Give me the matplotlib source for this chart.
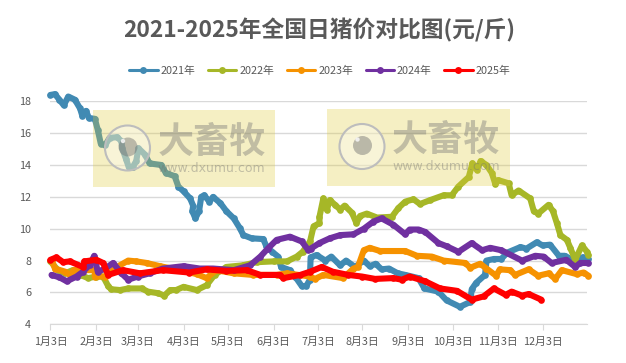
import matplotlib
matplotlib.use('Agg')
import matplotlib.pyplot as plt
from matplotlib.patches import Rectangle, Circle

plt.rcParams['font.family'] = ['Noto Sans CJK SC', 'DejaVu Sans']

title = '2021-2025年全国日猪价对比图(元/斤)'
tick_days = [0, 31, 59, 90, 120, 151, 181, 211, 242, 272, 303, 333]
tick_labels = ['1月3日', '2月3日', '3月3日', '4月3日', '5月3日', '6月3日',
               '7月3日', '8月3日', '9月3日', '10月3日', '11月3日', '12月3日']

# days since Jan 3
days_2021 = [0, 3, 6, 9, 12, 16.5, 20, 21.5, 24, 26, 30, 32, 34, 37, 40, 45, 48, 48.5, 51, 53, 55.5, 58, 59.5, 64, 67,
             75, 78, 84, 86.5, 90, 94.5, 96.5, 96, 98, 100.5, 102, 104, 107.5, 110, 115, 119, 124, 128, 130.5, 136,
             144, 146, 150, 154, 156, 162, 165.5, 170, 173, 175.5, 176, 180, 186, 190, 196, 200, 206, 212, 216, 220,
             224, 229, 235, 240, 249, 253, 262.5, 268, 277, 284, 285, 288, 294, 295, 300, 305, 309, 318, 322, 329,
             333, 338, 344, 348, 354, 360, 364]
price_2021 = [18.4, 18.45, 18.1, 17.75, 18.3, 18.1, 17.55, 17.1, 17.4, 16.95, 16.9, 16.2, 15.35, 15.25, 15.7, 15.75,
              15.5, 15.05, 14.4, 13.85, 13.85, 14.25, 15.05, 14.65, 14.1, 14.0, 13.5, 13.3, 12.65, 12.35, 11.9, 11.45,
              11.1, 10.65, 11.1, 12.0, 12.1, 11.7, 12.0, 11.6, 11.1, 10.65, 10.05, 9.6, 9.4, 9.35, 8.9, 8.55, 8.25,
              7.6, 7.4, 7.0, 6.4, 6.4, 6.8, 8.2, 8.35, 8.0, 8.25, 7.7, 8.0, 7.6, 8.0, 7.65, 7.8, 7.45, 7.5, 7.2, 7.1,
              6.9, 6.25, 6.05, 5.5, 5.1, 5.4, 6.2, 6.6, 7.1, 8.0, 8.1, 8.1, 8.5, 8.85, 8.75, 9.15, 8.95, 9.0, 8.3,
              8.3, 8.0, 8.2, 8.1]

days_2022 = [0, 5, 10, 15, 20, 25.5, 31, 35.6, 39, 41, 47, 52.6, 61.6, 66, 73, 77, 81, 85, 90, 99, 105.6, 111, 119,
             130, 139.5, 151, 160, 166.6, 170.6, 175.6, 178, 182, 182, 184.6, 187, 189, 192.5, 196, 199, 204, 207,
             209.5, 214, 221, 231, 235.4, 240, 245.6, 250, 257, 266, 271.5, 276, 283, 285.5, 288.5, 291, 295, 298.6,
             301, 303, 310, 312, 316.7, 324.6, 327, 330, 337, 340, 342.6, 345, 349.4, 351.7, 355, 359.6, 363, 364]
price_2022 = [7.95, 7.4, 7.2, 7.4, 7.1, 6.9, 7.0, 7.0, 6.4, 6.2, 6.15, 6.25, 6.25, 6.05, 5.95, 5.8, 6.15, 6.15, 6.35,
              6.15, 6.45, 7.1, 7.6, 7.7, 7.9, 7.95, 7.95, 8.25, 8.55, 9.2, 10.15, 10.35, 10.75, 11.9, 11.2, 11.8, 11.5,
              11.2, 11.45, 11.0, 10.35, 10.8, 10.95, 10.7, 10.75, 11.3, 11.7, 11.85, 11.55, 11.8, 12.1, 12.1, 12.65,
              13.25, 14.1, 13.7, 14.25, 14.0, 13.5, 12.8, 13.05, 12.85, 12.1, 12.4, 11.9, 11.1, 10.95, 11.5, 11.1,
              10.35, 9.6, 9.3, 8.8, 8.05, 8.95, 8.55, 8.35]

days_2023 = [0.7, 3, 10, 13, 16, 30, 30, 37, 45, 52.6, 58, 65, 74, 87.6, 99, 105.6, 112, 124, 137, 153, 160, 175.6,
             179, 184.6, 198, 205, 208, 212, 216, 223, 240, 248, 258, 266, 280.6, 284, 290.7, 295, 301.5, 304, 311,
             314.4, 323.5, 330, 337, 341.5, 346, 356, 360.7, 364]
price_2023 = [8.05, 7.5, 7.3, 7.1, 7.4, 7.4, 7.0, 7.0, 7.6, 8.0, 7.95, 7.85, 7.65, 7.4, 7.15, 6.9, 7.4, 7.2, 7.1, 7.1,
              7.2, 7.0, 6.85, 7.1, 6.9, 7.5, 7.6, 8.65, 8.8, 8.6, 8.6, 8.3, 8.25, 8.0, 7.85, 7.55, 7.8, 7.5, 7.05,
              7.45, 7.4, 7.1, 7.45, 7.05, 7.2, 6.85, 7.4, 7.15, 7.25, 7.05]

days_2024 = [0.7, 6, 11, 17.6, 22, 26.6, 29.6, 32, 37, 42.4, 48, 52.6, 59, 67, 76, 90, 101, 110, 124, 135, 142, 147,
             153, 162, 170, 174.5, 176, 182, 189, 196, 205, 212, 218.5, 224, 232, 240, 243, 249, 253.5, 262.5, 268,
             276, 285, 292, 297.5, 305, 319, 328, 333.6, 339, 349, 355, 358.5, 364]
price_2024 = [7.1, 6.95, 6.7, 7.0, 7.3, 7.75, 8.3, 7.3, 7.5, 7.85, 7.2, 6.8, 7.0, 7.2, 7.5, 7.65, 7.5, 7.5, 7.4, 7.7,
              8.25, 8.75, 9.3, 9.5, 9.2, 8.65, 8.75, 9.1, 9.4, 9.6, 9.65, 10.0, 10.45, 10.65, 10.25, 9.65, 9.95, 9.95,
              9.8, 9.1, 8.9, 8.55, 9.1, 8.65, 8.8, 8.65, 8.0, 8.3, 8.25, 7.85, 8.05, 7.6, 7.85, 7.85]

days_2025 = [0, 4, 8.6, 13, 22, 23, 31, 35.6, 39, 49, 60.5, 76, 94, 105.6, 119, 132.7, 142, 155, 157.6, 169, 175.6,
             183.5, 191, 201.5, 210.6, 219.6, 232, 237.7, 243, 253.5, 263.6, 275, 285, 293, 300, 308, 312, 319, 323.5,
             332]
price_2025 = [8.05, 8.2, 7.9, 7.95, 7.6, 7.95, 8.05, 7.85, 7.1, 7.4, 7.2, 7.4, 7.25, 7.45, 7.35, 7.4, 7.1, 7.1, 6.9,
              7.1, 7.3, 7.6, 7.3, 7.1, 7.0, 6.85, 6.9, 6.8, 7.0, 6.7, 6.25, 6.1, 5.55, 5.75, 6.25, 5.85, 6.05, 5.8,
              5.9, 5.55]

fig = plt.figure(figsize=(6.26, 3.63), dpi=100)
W, H = 626, 363
ax = fig.add_axes([50.5 / W, 1 - 324.3 / H, (587 - 50.5) / W, (324.3 - 101.3) / H])


def draw(days, price, color, label):
    ax.plot(days, price, color=color, lw=4.4, marker='o', ms=4.8, mew=0, label=label,
            clip_on=False, solid_capstyle='round', solid_joinstyle='round')


draw(days_2021, price_2021, '#418ab3', '2021年')
draw(days_2022, price_2022, '#a6b727', '2022年')
draw(days_2023, price_2023, '#f69200', '2023年')
draw(days_2024, price_2024, '#7030a0', '2024年')
draw(days_2025, price_2025, '#ff0000', '2025年')

ax.set_xlim(0, 363)
ax.set_ylim(4, 18)
ax.set_yticks(range(4, 19, 2))
ax.set_xticks(tick_days)
ax.set_xticklabels(tick_labels)
ax.grid(axis='y', color='#d9d9d9', lw=1)
ax.set_axisbelow(True)
for s in ['top', 'left', 'right']:
    ax.spines[s].set_visible(False)
ax.spines['bottom'].set_color('#d9d9d9')
ax.tick_params(axis='x', length=4, color='#d9d9d9', labelcolor='#595959', labelsize=7.8, pad=5)
ax.tick_params(axis='y', length=0, labelcolor='#595959', labelsize=7.8, pad=14)

fig.text(319 / W, 1 - 30 / H, title, ha='center', va='center', fontsize=16.4, fontweight='bold', color='#595959')

handles, labels = ax.get_legend_handles_labels()
fig.legend(handles, labels, loc='center', bbox_to_anchor=(320 / W, 1 - 70.5 / H), ncol=5, frameon=False,
           fontsize=7.8, labelcolor='#595959', handlelength=2.6, handletextpad=0.3, columnspacing=1.15)
for h in fig.legends[0].get_lines():
    h.set_linewidth(2.2)
    h.set_markersize(5)

# watermarks sit on top of the lines
over = fig.add_axes([0, 0, 1, 1], facecolor='none')
over.set_xlim(0, W)
over.set_ylim(H, 0)
over.axis('off')


def watermark(x0, y0):
    over.add_patch(Rectangle((x0, y0), 182.5, 77, color='#deca3a', alpha=0.3, lw=0))
    cx, cy = x0 + 35, y0 + 38
    over.add_patch(Circle((cx, cy), 22.5, fc='#ffffff', ec='none', alpha=0.35))
    over.add_patch(Circle((cx, cy), 22.5, fc='none', ec='#bdbdbd', lw=1.5))
    over.add_patch(Circle((cx + 0.5, cy - 1), 9.5, fc='#6f6f6f', ec='none', alpha=0.45))
    over.add_patch(Circle((cx - 4.5, cy - 7), 2.2, fc='#f5f5f5', ec='none', alpha=0.9))
    over.text(x0 + 119, y0 + 32, '大畜牧', ha='center', va='center', fontsize=26, fontweight='bold',
              color='#737373', alpha=0.4)
    over.text(x0 + 119, y0 + 58, 'www.dxumu.com', ha='center', va='center', fontsize=9,
              family='DejaVu Sans', color='#737373', alpha=0.4)


watermark(92.5, 110)
watermark(327, 108.5)

fig.savefig('out.png', dpi=100)
